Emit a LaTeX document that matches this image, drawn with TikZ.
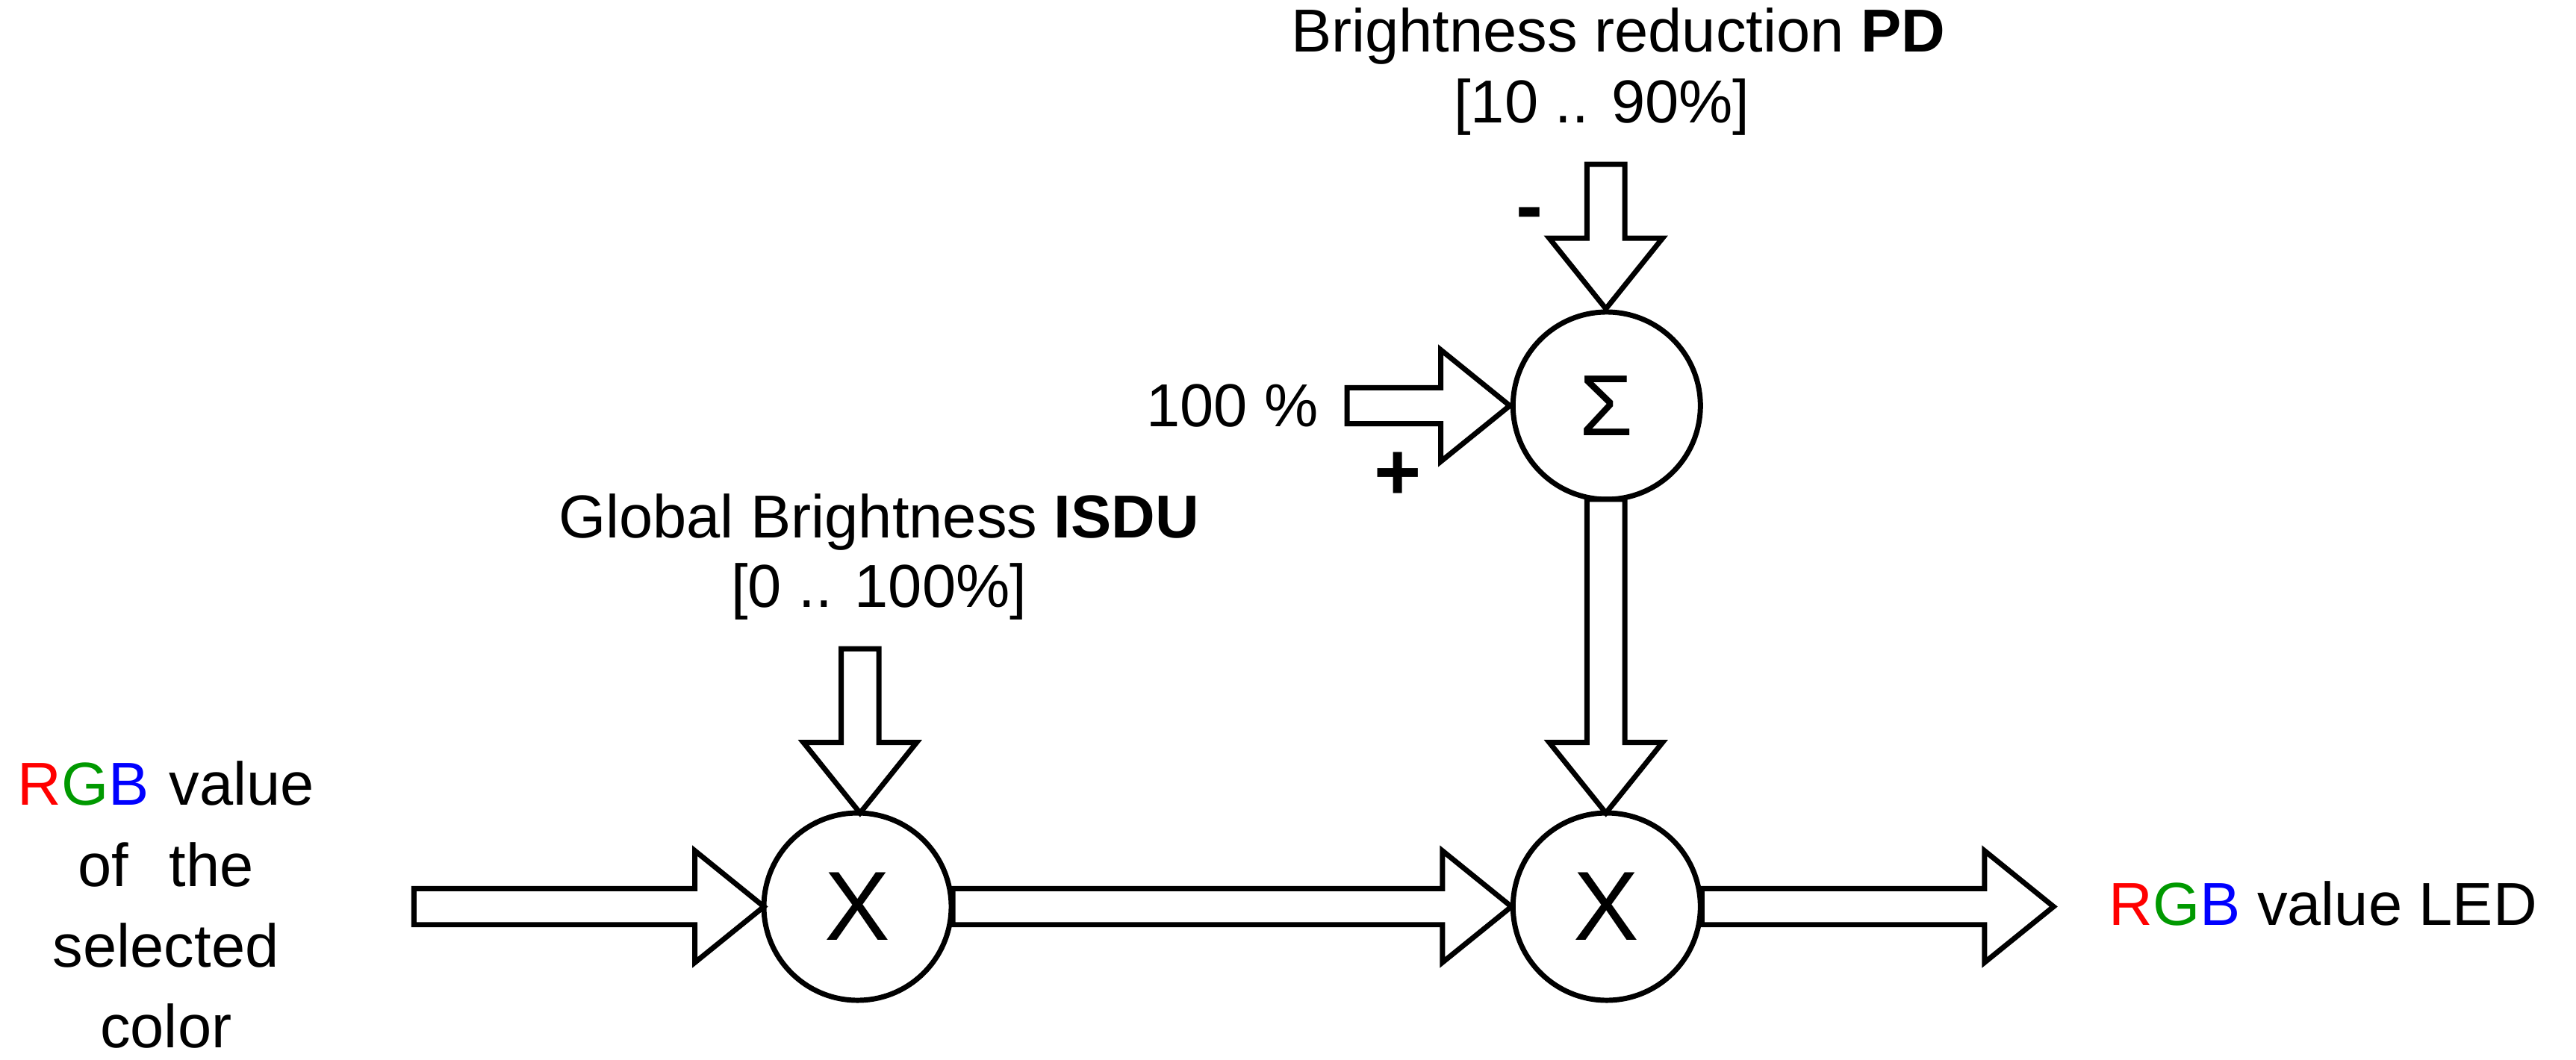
\documentclass[tikz,border=0pt]{standalone}
\usepackage{fontspec}
\setmainfont{Liberation Sans}
\newcommand{\myharrow}[3]{% x0, y, xtip
  \draw[blk] (#1,#2-11) -- (#3-42,#2-11) -- (#3-42,#2-34) -- (#3,#2) -- (#3-42,#2+34) -- (#3-42,#2+11) -- (#1,#2+11) -- cycle;}
\newcommand{\myvarrow}[3]{% x, y0, ytip
  \draw[blk] (#1-11.5,#2) -- (#1-11.5,#3-43) -- (#1-34.5,#3-43) -- (#1,#3) -- (#1+34.5,#3-43) -- (#1+11.5,#3-43) -- (#1+11.5,#2) -- cycle;}
\begin{document}
\begin{tikzpicture}[x=0.01cm,y=-0.01cm,
  blk/.style={draw=black,line width=0.9pt,fill=white,line join=miter},
  op/.style={circle,draw=black,line width=0.9pt,minimum size=1.14cm,inner sep=0pt},
  txt/.style={font=\fontsize{10.5}{13}\selectfont,align=center,inner sep=0pt}]
\useasboundingbox (0,0) rectangle (1568,645);
\node[op,font=\fontsize{17}{17}\selectfont] (x1) at (522,552) {X};
\node[op,font=\fontsize{17}{17}\selectfont] (x2) at (978,552) {X};
\node[op,font=\fontsize{15}{15}\selectfont] (s) at (978,247) {Σ};
\myharrow{252}{552}{465}
\myharrow{580}{552}{920}
\myharrow{1036}{552}{1250}
\myharrow{820}{247}{919}
\myvarrow{523.5}{395}{495}
\myvarrow{977.5}{100}{188}
\myvarrow{977.5}{304}{495}
\node[txt] (t1) at (535,318) {Global Brightness \textbf{ISDU}};
\node[txt] (t2) at (535,360) {[0 .. 100\%]};
\node[txt] (t3) at (985,22) {Brightness reduction \textbf{PD}};
\node[txt] (t4) at (975,65) {[10 .. 90\%]};
\node[txt] (t5) at (750,247) {100 \%};
\node[txt,font=\fontsize{14}{14}\selectfont\bfseries] (pl) at (851,290) {+};
\node[txt,font=\fontsize{14}{14}\selectfont\bfseries] (mi) at (931,134) {-};
\node[txt,text width=4cm] (in) at (101,551) {\textcolor{red}{R}\textcolor{green!60!black}{G}\textcolor{blue}{B} value\\[1pt] of\ \ the\\[1pt] selected\\[1pt] color};
\node[txt,anchor=west] (out) at (1283,550) {\textcolor{red}{R}\textcolor{green!60!black}{G}\textcolor{blue}{B} value LED};
\end{tikzpicture}
\end{document}
